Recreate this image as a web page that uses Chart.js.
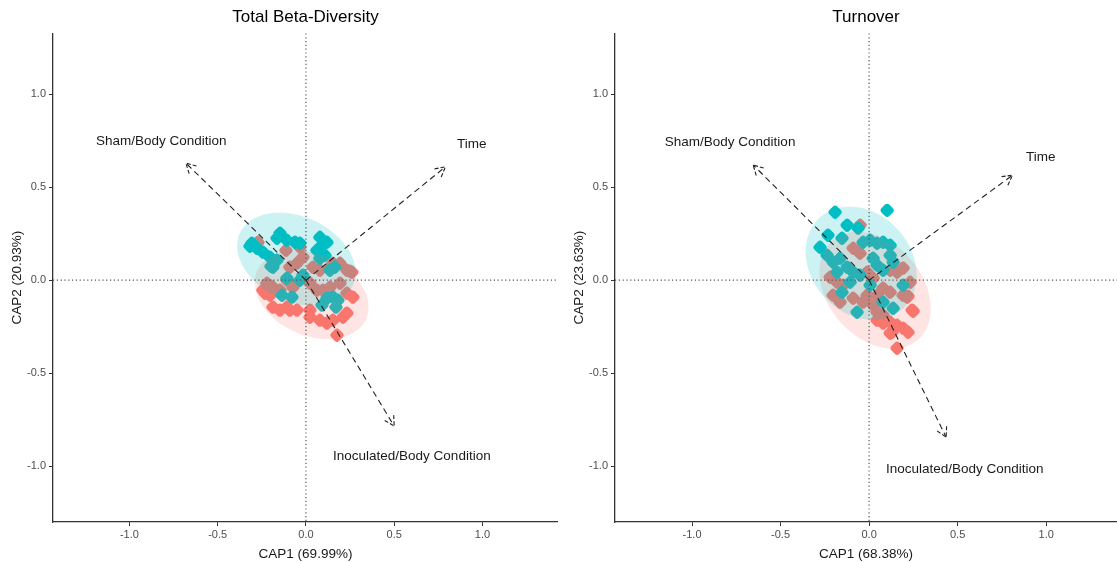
<!DOCTYPE html>
<html>
<head>
<meta charset="utf-8">
<script src="https://cdn.jsdelivr.net/npm/chart.js@4.4.1/dist/chart.umd.min.js"></script>
<style>
    html, body { margin: 0; padding: 0; background: #fff; }
    #wrap { position: relative; width: 1117px; height: 562px; overflow: hidden; }
    .panel { position: absolute; top: 0; height: 562px; }
    #p1 { left: 0; width: 558px; }
    #p2 { left: 562px; width: 555px; }
</style>
</head>
<body>
<div id="wrap">
    <div class="panel" id="p1"><canvas id="chart-total"></canvas></div>
    <div class="panel" id="p2"><canvas id="chart-turnover"></canvas></div>
</div>
<script>
// --- dados ---
const panelTitles = ['Total Beta-Diversity', 'Turnover'];
const xAxisTitles = ['CAP1 (69.99%)', 'CAP1 (68.38%)'];
const yAxisTitles = ['CAP2 (20.93%)', 'CAP2 (23.63%)'];
const tickValues = [-1.0, -0.5, 0.0, 0.5, 1.0];
const groupNames = ['Inoculated', 'Sham'];
const vectorNames = ['Sham/Body Condition', 'Time', 'Inoculated/Body Condition'];

// Total Beta-Diversity
const totalShamX = [-0.147, -0.108, -0.164, 0.079, 0.119, 0.091, -0.306, -0.278, -0.244, -0.204, -0.187, -0.062, -0.034, 0.062, 0.079, 0.108, 0.136, -0.108, -0.034, -0.017, -0.136, -0.079, 0.119, 0.153, 0.181, 0.091, -0.164, 0.164, -0.317, 0.170, -0.198];
const totalShamY = [0.253, 0.215, 0.226, 0.231, 0.204, 0.188, 0.199, 0.172, 0.151, 0.124, 0.070, 0.204, 0.199, 0.161, 0.118, 0.134, 0.054, 0.011, 0.0, 0.027, -0.081, -0.091, -0.097, -0.091, -0.108, -0.134, 0.108, 0.070, 0.183, -0.145, 0.075];
const totalInocX = [-0.272, -0.034, -0.017, -0.051, -0.091, 0.040, 0.079, 0.153, 0.193, 0.232, 0.261, -0.221, -0.187, -0.147, -0.204, -0.108, -0.074, 0.023, 0.062, 0.096, 0.136, 0.193, 0.232, 0.266, -0.244, -0.108, -0.051, 0.023, 0.136, -0.232, -0.187, -0.147, -0.091, 0.023, 0.079, 0.119, 0.153, 0.210, 0.176, 0.232, -0.113, -0.198, 0.249];
const totalInocY = [0.204, 0.177, 0.124, 0.091, 0.070, 0.070, 0.054, 0.091, 0.091, 0.054, 0.043, -0.016, -0.038, -0.054, -0.081, 0.0, -0.038, -0.016, -0.054, -0.054, -0.038, -0.016, -0.070, -0.091, -0.054, -0.145, -0.161, -0.161, 0.070, -0.070, -0.145, -0.161, -0.161, -0.199, -0.215, -0.231, -0.215, -0.199, -0.296, -0.177, 0.161, -0.032, 0.048];
const totalVectorX = [-0.68, 0.79, 0.50];
const totalVectorY = [0.63, 0.61, -0.785];
const totalLabelX = [-0.82, 0.94, 0.60];
const totalLabelY = [0.75, 0.73, -0.95];
// elipses: [Inoculated, Sham] -> centro, semi-eixos, ângulo (graus)
const totalEllipseCx = [0.032, -0.054];
const totalEllipseCy = [-0.079, 0.113];
const totalEllipseA = [0.335, 0.35];
const totalEllipseB = [0.22, 0.23];
const totalEllipseAngle = [-21, -22];

// Turnover
const turnShamX = [-0.192, 0.102, -0.124, -0.062, -0.232, -0.277, -0.153, -0.034, 0.006, 0.045, 0.079, 0.119, -0.237, -0.203, -0.164, -0.124, -0.090, -0.051, 0.023, 0.045, 0.079, 0.119, 0.136, 0.192, -0.153, -0.068, 0.136, 0.079, 0.006, -0.107, -0.181];
const turnShamY = [0.366, 0.376, 0.296, 0.280, 0.242, 0.177, 0.226, 0.204, 0.215, 0.199, 0.204, 0.188, 0.134, 0.097, 0.118, 0.070, 0.043, 0.027, 0.118, 0.081, 0.054, 0.134, 0.097, -0.027, -0.065, -0.172, -0.151, -0.118, -0.027, -0.011, 0.043];
const turnInocX = [-0.051, -0.090, -0.051, -0.220, -0.181, -0.147, -0.203, -0.164, -0.011, 0.023, -0.011, 0.045, 0.023, 0.119, 0.158, 0.192, 0.232, 0.192, 0.079, 0.119, -0.090, -0.034, 0.215, 0.045, 0.079, 0.243, 0.045, 0.079, 0.119, 0.158, 0.192, 0.220, 0.119, 0.158, 0.249, 0.220, 0.130];
const turnInocY = [0.296, 0.172, 0.145, 0.016, -0.011, -0.027, -0.081, -0.118, 0.043, 0.011, -0.081, -0.081, -0.134, 0.054, 0.043, 0.065, -0.011, -0.081, -0.043, -0.065, -0.097, -0.118, -0.091, -0.172, -0.188, -0.161, -0.215, -0.231, -0.226, -0.242, -0.258, -0.280, -0.285, -0.366, -0.167, -0.086, -0.280];
const turnVectorX = [-0.655, 0.81, 0.435];
const turnVectorY = [0.62, 0.565, -0.845];
const turnLabelX = [-0.785, 0.97, 0.54];
const turnLabelY = [0.74, 0.66, -1.015];
const turnEllipseCx = [0.034, -0.045];
const turnEllipseCy = [-0.054, 0.091];
const turnEllipseA = [0.36, 0.34];
const turnEllipseB = [0.26, 0.275];
const turnEllipseAngle = [-45, -41];

const FONT = '"Liberation Sans", Arial, sans-serif';
const groupColors = ['#F8766D', '#00BFC4'];
const groupFills = ['rgba(248,118,109,0.2)', 'rgba(0,191,196,0.2)'];

const toPoints = (xs, ys) => xs.map((x, i) => ({ x: x, y: ys[i] }));

// desenha elipses, linhas de referência, vetores e rótulos por cima dos pontos
const overlay = {
    id: 'overlay',
    afterDatasetsDraw(chart, args, o) {
        const ctx = chart.ctx;
        const sx = chart.scales.x, sy = chart.scales.y;
        const area = chart.chartArea;
        ctx.save();

        // elipses
        o.ellipse.cx.forEach((cx, g) => {
            const cy = o.ellipse.cy[g], a = o.ellipse.a[g], b = o.ellipse.b[g];
            const th = o.ellipse.angle[g] * Math.PI / 180;
            ctx.beginPath();
            for (let k = 0; k <= 120; k++) {
                const t = k / 120 * 2 * Math.PI;
                const ex = cx + a * Math.cos(t) * Math.cos(th) - b * Math.sin(t) * Math.sin(th);
                const ey = cy + a * Math.cos(t) * Math.sin(th) + b * Math.sin(t) * Math.cos(th);
                const px = sx.getPixelForValue(ex), py = sy.getPixelForValue(ey);
                if (k === 0) ctx.moveTo(px, py); else ctx.lineTo(px, py);
            }
            ctx.closePath();
            ctx.fillStyle = groupFills[g];
            ctx.fill();
        });

        // linhas pontilhadas em zero
        const x0 = sx.getPixelForValue(0), y0 = sy.getPixelForValue(0);
        ctx.strokeStyle = '#555';
        ctx.lineWidth = 1.2;
        ctx.setLineDash([1.2, 2.6]);
        ctx.beginPath();
        ctx.moveTo(x0, area.top); ctx.lineTo(x0, area.bottom);
        ctx.moveTo(area.left, y0); ctx.lineTo(area.right, y0);
        ctx.stroke();

        // vetores
        ctx.strokeStyle = '#222';
        ctx.lineWidth = 1.1;
        ctx.setLineDash([6, 4]);
        o.vx.forEach((vx, i) => {
            const ex = sx.getPixelForValue(vx), ey = sy.getPixelForValue(o.vy[i]);
            const ang = Math.atan2(ey - y0, ex - x0);
            ctx.beginPath();
            ctx.moveTo(x0, y0); ctx.lineTo(ex, ey);
            ctx.stroke();
            ctx.setLineDash([4, 2]);
            ctx.beginPath();
            ctx.moveTo(ex - 11 * Math.cos(ang - 0.5), ey - 11 * Math.sin(ang - 0.5));
            ctx.lineTo(ex, ey);
            ctx.lineTo(ex - 11 * Math.cos(ang + 0.5), ey - 11 * Math.sin(ang + 0.5));
            ctx.stroke();
            ctx.setLineDash([6, 4]);
        });
        ctx.setLineDash([]);

        // rótulos
        ctx.fillStyle = '#1a1a1a';
        ctx.font = '13.5px ' + FONT;
        ctx.textAlign = 'center';
        ctx.textBaseline = 'middle';
        vectorNames.forEach((name, i) => {
            ctx.fillText(name, sx.getPixelForValue(o.lx[i]), sy.getPixelForValue(o.ly[i]));
        });
        ctx.restore();
    }
};

function makeChart(id, p) {
    const ctx = document.getElementById(id).getContext('2d');
    return new Chart(ctx, {
        type: 'scatter',
        data: {
            datasets: [
                { label: groupNames[1], data: toPoints(p.shamX, p.shamY), backgroundColor: groupColors[1], order: 1 },
                { label: groupNames[0], data: toPoints(p.inocX, p.inocY), backgroundColor: groupColors[0], order: 2 }
            ]
        },
        options: {
            responsive: true,
            maintainAspectRatio: false,
            animation: false,
            events: [],
            layout: { padding: 0, autoPadding: false },
            elements: {
                point: { pointStyle: 'rectRounded', rotation: 45, radius: 6.5, borderWidth: 0 }
            },
            scales: {
                x: {
                    type: 'linear', min: p.xmin, max: p.xmax,
                    afterBuildTicks: s => { s.ticks = tickValues.map(v => ({ value: v })); },
                    afterFit: s => { s.height = 40; s.paddingLeft = 0; s.paddingRight = 0; },
                    ticks: { callback: v => v.toFixed(1), color: '#4d4d4d', font: { family: FONT, size: 11 }, padding: 2, maxRotation: 0, autoSkip: false },
                    grid: { drawOnChartArea: false, tickLength: 4, tickColor: '#333' },
                    border: { color: '#333', width: 1.3 },
                    title: { display: true, text: p.xTitle, color: '#1a1a1a', font: { family: FONT, size: 13.5 }, padding: { top: 0, bottom: 0 } }
                },
                y: {
                    type: 'linear', min: -1.301, max: 1.328,
                    afterBuildTicks: s => { s.ticks = tickValues.map(v => ({ value: v })); },
                    afterFit: s => { s.width = 53; s.paddingTop = 0; s.paddingBottom = 0; },
                    ticks: { callback: v => v.toFixed(1), color: '#4d4d4d', font: { family: FONT, size: 11 }, padding: 3, autoSkip: false },
                    grid: { drawOnChartArea: false, tickLength: 4, tickColor: '#333' },
                    border: { color: '#333', width: 1.3 },
                    title: { display: true, text: p.yTitle, color: '#1a1a1a', font: { family: FONT, size: 13.5 }, padding: { top: 9, bottom: 2 } }
                }
            },
            plugins: {
                legend: { display: false },
                tooltip: { enabled: false },
                title: { display: true, text: p.title, fullSize: false, color: '#000', font: { family: FONT, size: 17, weight: 'normal' }, padding: { top: 7, bottom: 6 } },
                overlay: { ellipse: p.ellipse, vx: p.vx, vy: p.vy, lx: p.lx, ly: p.ly }
            }
        },
        plugins: [overlay]
    });
}

makeChart('chart-total', {
    title: panelTitles[0], xTitle: xAxisTitles[0], yTitle: yAxisTitles[0], xmin: -1.433, xmax: 1.428,
    shamX: totalShamX, shamY: totalShamY, inocX: totalInocX, inocY: totalInocY,
    vx: totalVectorX, vy: totalVectorY, lx: totalLabelX, ly: totalLabelY,
    ellipse: { cx: totalEllipseCx, cy: totalEllipseCy, a: totalEllipseA, b: totalEllipseB, angle: totalEllipseAngle }
});

makeChart('chart-turnover', {
    title: panelTitles[1], xTitle: xAxisTitles[1], yTitle: yAxisTitles[1], xmin: -1.435, xmax: 1.40,
    shamX: turnShamX, shamY: turnShamY, inocX: turnInocX, inocY: turnInocY,
    vx: turnVectorX, vy: turnVectorY, lx: turnLabelX, ly: turnLabelY,
    ellipse: { cx: turnEllipseCx, cy: turnEllipseCy, a: turnEllipseA, b: turnEllipseB, angle: turnEllipseAngle }
});
</script>
</body>
</html>
